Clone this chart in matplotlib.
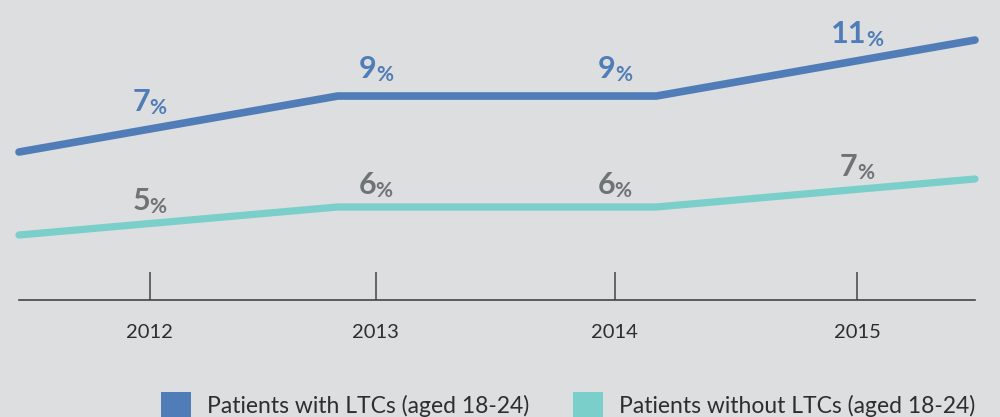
import numpy as np
import matplotlib.pyplot as plt
from matplotlib.patches import Patch

# data
years = ['2012', '2013', '2014', '2015']
with_ltc = [7, 9, 9, 11]
without_ltc = [5, 6, 6, 7]
series_names = ['Patients with LTCs (aged 18-24)', 'Patients without LTCs (aged 18-24)']

# colours
bg = '#dcdedf'
blue = '#507db7'
teal = '#7acfcb'
grey_lbl = '#6e7374'
ink = '#2e2e2e'
axis_col = '#454545'

plt.rcParams['font.family'] = ['Lato', 'DejaVu Sans']

fig = plt.figure(figsize=(10, 4.17), dpi=100, facecolor=bg)
ax = fig.add_axes([0.019, 117 / 417, 0.956, 300 / 417])
ax.set_facecolor(bg)
ax2 = ax.twinx()  # teal series sits on its own (shifted) scale

line_x = np.arange(len(years))
tick_x = [0.41, 1.12, 1.87, 2.63]  # year ticks don't line up with the line vertices

ax.plot(line_x, with_ltc, color=blue, lw=5.5, solid_capstyle='round',
        solid_joinstyle='round', clip_on=False, zorder=3)
ax2.plot(line_x, without_ltc, color=teal, lw=5.2, solid_capstyle='round',
         solid_joinstyle='round', clip_on=False, zorder=3)

ax.set_xlim(0, 3)
ax.set_ylim(1.714, 12.43)
ax2.set_ylim(2.68, 13.39)

for s in ['top', 'left', 'right']:
    ax.spines[s].set_visible(False)
ax.spines['bottom'].set_color(axis_col)
ax.spines['bottom'].set_linewidth(1.2)
for s in ax2.spines.values():
    s.set_visible(False)
ax.set_yticks([])
ax2.set_yticks([])

ax.set_xticks(tick_x, years)
ax.tick_params(axis='x', direction='in', length=20, width=1.1, color=axis_col,
               pad=17, labelsize=14.5, labelcolor=ink)


def value_label(axis, x, y, val, color, rise):
    num = axis.annotate(str(val), xy=(x, y), xytext=(-6, rise),
                        textcoords='offset points', ha='center', va='baseline',
                        fontsize=22, fontweight='bold', color=color, zorder=4)
    axis.annotate('%', xy=(1, 0), xycoords=num, xytext=(-0.5, -1.3),
                  textcoords='offset points', ha='left', va='bottom',
                  fontsize=15, fontweight='bold', color=color, zorder=4)


for tx, v in zip(tick_x, with_ltc):
    value_label(ax, tx, np.interp(tx, line_x, with_ltc), v, blue, 13)
for tx, v in zip(tick_x, without_ltc):
    value_label(ax2, tx, np.interp(tx, line_x, without_ltc), v, grey_lbl, 9.5)

handles = [Patch(facecolor=blue), Patch(facecolor=teal)]
fig.legend(handles, series_names, loc='center', bbox_to_anchor=(0.5685, 12 / 417),
           ncol=2, frameon=False, fontsize=16.5, handlelength=1.31, handleheight=1.31,
           handletextpad=0.7, columnspacing=1.9, labelcolor=ink)

fig.savefig('out.png', dpi=100, facecolor=bg)
